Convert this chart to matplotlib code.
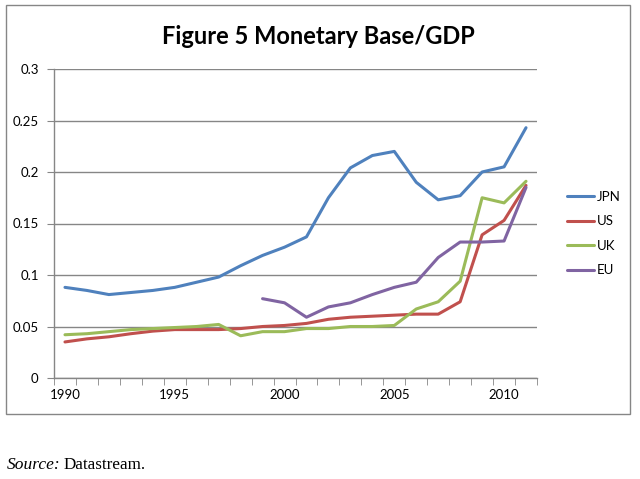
import matplotlib.pyplot as plt
import numpy as np
from matplotlib.patches import Rectangle

years = list(range(1990, 2012))

jpn = [0.088, 0.085, 0.081, 0.083, 0.085, 0.088, 0.093, 0.098, 0.109, 0.119,
       0.127, 0.137, 0.175, 0.204, 0.216, 0.220, 0.190, 0.173, 0.177, 0.200,
       0.205, 0.243]
us = [0.035, 0.038, 0.040, 0.043, 0.0455, 0.047, 0.047, 0.047, 0.048, 0.050,
      0.051, 0.053, 0.057, 0.059, 0.060, 0.061, 0.062, 0.062, 0.074, 0.139,
      0.153, 0.187]
uk = [0.042, 0.043, 0.045, 0.047, 0.048, 0.049, 0.050, 0.052, 0.041, 0.045,
      0.045, 0.048, 0.048, 0.050, 0.050, 0.051, 0.067, 0.074, 0.094, 0.175,
      0.170, 0.191]
eu = [None] * 9 + [0.077, 0.073, 0.059, 0.069, 0.073, 0.081, 0.088, 0.093,
                   0.117, 0.132, 0.132, 0.133, 0.185]

series = [("JPN", jpn, "#4F81BD"), ("US", us, "#C0504D"),
          ("UK", uk, "#9BBB59"), ("EU", eu, "#8064A2")]

W, H = 640, 479
fig = plt.figure(figsize=(6.4, 4.79), dpi=100)
grey = "#868686"

# outer chart frame
fig.patches.append(Rectangle((6 / W, 1 - 414 / H), 624 / W, 409 / H,
                             transform=fig.transFigure, fill=False,
                             edgecolor=grey, linewidth=1))

ax = fig.add_axes([54 / W, 1 - 378 / H, 483 / W, 309 / H])

for label, vals, colour in series:
    y = np.array([np.nan if v is None else v for v in vals], dtype=float)
    ax.plot(years, y, color=colour, linewidth=2.2, label=label,
            solid_capstyle="round", solid_joinstyle="round")

ax.set_xlim(1989.5, 2011.5)
ax.set_ylim(0, 0.3)
ax.set_yticks(np.arange(0, 0.31, 0.05))
ax.set_yticklabels(["0", "0.05", "0.1", "0.15", "0.2", "0.25", "0.3"])
ax.set_xticks([1990, 1995, 2000, 2005, 2010])
ax.set_xticks(np.arange(1989.5, 2012, 1), minor=True)
ax.tick_params(axis="x", which="major", length=0, pad=8)
ax.tick_params(axis="x", which="minor", length=5, color=grey, direction="out")
ax.tick_params(axis="y", length=5, color=grey, direction="out", pad=6)
for lab in ax.get_xticklabels() + ax.get_yticklabels():
    lab.set_fontfamily("Lato")
    lab.set_fontsize(9.5)

ax.grid(axis="y", color=grey, linewidth=1)
ax.set_axisbelow(True)
for side in ["top", "right"]:
    ax.spines[side].set_visible(False)
for side in ["left", "bottom"]:
    ax.spines[side].set_color(grey)
    ax.spines[side].set_linewidth(1)

leg = ax.legend(loc="center left", bbox_to_anchor=(560 / W, 1 - 233.5 / H),
                bbox_transform=fig.transFigure, frameon=False,
                handlelength=2.1, handletextpad=0.2, labelspacing=0.95,
                borderpad=0, prop={"family": "Lato", "size": 9.5})

fig.text(318 / W, 1 - 37 / H, "Figure 5 Monetary Base/GDP", ha="center",
         va="center", fontsize=17, fontweight="bold", family="Lato")

fig.text(7 / W, 1 - 465 / H, "Source:", ha="left", va="center", fontsize=12.5,
         family="Liberation Serif", style="italic")
fig.text(64 / W, 1 - 465 / H, "Datastream.", ha="left", va="center",
         fontsize=12.3, family="Liberation Serif")

fig.savefig("out.png", dpi=100)
